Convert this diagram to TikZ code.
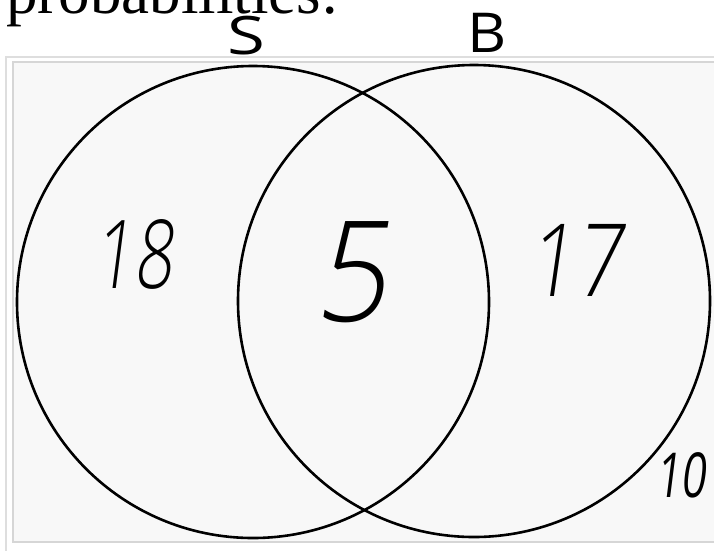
\documentclass[tikz,border=0pt]{standalone}
\usepackage{fontspec}
\setmainfont{Liberation Serif}
\newfontfamily\handfont{Open Sans Light}[FakeSlant=0.18]
\newfontfamily\handsmall{Open Sans}[FakeSlant=0.18]
\newfontfamily\handup{Open Sans}
\definecolor{panelfill}{HTML}{F8F8F8}
\definecolor{framegray}{HTML}{D6D6D6}
\definecolor{outergray}{HTML}{DEDEDE}
\tikzset{
  setcircle/.style={circle, draw=black, line width=2.6pt, minimum size=472pt, inner sep=0pt},
  handlabel/.style={inner sep=0pt, text=black},
}
\begin{document}
\begin{tikzpicture}[x=1pt,y=-1pt]
\path[use as bounding box] (0,0) rectangle (714,550);
\clip (0,0) rectangle (714,550);
\fill[white] (0,0) rectangle (714,550);
% frames
\draw[outergray, line width=1.5pt] (6,57) rectangle (740,580);
\draw[framegray, line width=1.5pt, fill=panelfill] (13,62) rectangle (740,542);
% heading text (cut off at top)
\node[anchor=base west, inner sep=0pt, font=\fontsize{63}{63}\selectfont] (title) at (6,13) {probabilities:};
% circles
\node[setcircle] (Sc) at (253,302) {};
\node[setcircle] (Bc) at (474,301) {};
% set labels
\node[handlabel, font=\handup\fontsize{53}{53}\selectfont] (Slab) at (246,36) {\scalebox{1.3}[1]{S}};
\node[handlabel, font=\handup\fontsize{55}{55}\selectfont] (Blab) at (487,33) {\scalebox{1.1}[1]{B}};
% counts
\node[handlabel, font=\handfont\fontsize{95}{95}\selectfont] (n18) at (133,254) {\scalebox{0.72}[1]{18}};
\node[handlabel, font=\handfont\fontsize{140}{140}\selectfont] (n5) at (350,272) {\scalebox{0.9}[1]{5}};
\node[handlabel, font=\handfont\fontsize{101}{101}\selectfont] (n17) at (574,260) {\scalebox{0.8}[1]{17}};
\node[handlabel, font=\handsmall\fontsize{62}{62}\selectfont] (n10) at (680,475) {\scalebox{0.7}[1]{10}};
\end{tikzpicture}
\end{document}
